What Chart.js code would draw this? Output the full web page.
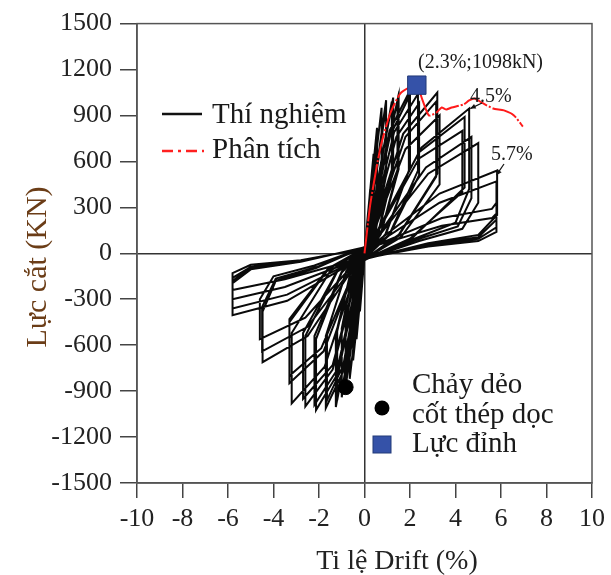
<!DOCTYPE html>
<html>
<head>
<meta charset="utf-8">
<script src="https://cdn.jsdelivr.net/npm/chart.js@4.4.1/dist/chart.umd.min.js"></script>
<style>
  html, body { margin: 0; padding: 0; background: #fff; }
  #wrap { width: 611px; height: 575px; }
</style>
</head>
<body>
<div id="wrap"><canvas id="hyst" width="611" height="575"></canvas></div>
<script>
// axis ranges / ticks
const driftTicks = [-10, -8, -6, -4, -2, 0, 2, 4, 6, 8, 10];
const forceTicks = [-1500, -1200, -900, -600, -300, 0, 300, 600, 900, 1200, 1500];

// experimental hysteresis path (drift %, shear kN), one cycle per row
const testDrift = [
    0.03, 0.25, 0.25, 0.12, 0, -0.2, -0.2, -0.1, 0,
    0.4, 0.4, 0.2, -0.02, -0.35, -0.35, -0.17, 0.02,
    0.55, 0.55, 0.27, -0.03, -0.5, -0.5, -0.24, 0.03,
    0.75, 0.75, 0.36, -0.04, -0.65, -0.65, -0.32, 0.04,
    0.95, 0.95, 0.45, -0.05, -0.83, -0.83, -0.4, 0.05,
    0.95, 0.95, 0.45, -0.05, -0.83, -0.83, -0.4, 0.05,
    1.26, 1.26, 0.6, -0.07, -1.0, -1.0, -0.5, 0.07,
    1.2, 1.2, 0.58, -0.07, -1.0, -1.0, -0.5, 0.07,
    1.5, 1.5, 0.72, -0.1, -1.26, -1.26, -0.6, 0.1,
    1.45, 1.45, 0.7, -0.1, -1.2, -1.2, -0.6, 0.1,
    1.1, 2.0, 2.0, 0.95, -0.12, -0.9, -1.7, -1.7, -0.8, 0.12,
    1.1, 1.95, 1.95, 0.92, -0.12, -0.9, -1.65, -1.65, -0.8, 0.12,
    1.3, 2.35, 2.35, 1.1, -0.15, -1.15, -2.13, -2.13, -1.0, 0.15,
    1.4, 2.4, 2.4, 1.1, -0.15, -1.2, -2.2, -2.2, -1.0, 0.15,
    1.7, 3.2, 3.2, 1.5, -0.2, -1.4, -2.6, -2.6, -1.2, 0.2,
    1.8, 3.15, 3.15, 1.5, -0.2, -1.4, -2.7, -2.7, -1.2, 0.2,
    1.8, 3.3, 3.3, 1.6, -0.25, -1.75, -3.2, -3.2, -1.5, 0.25,
    2.4, 4.4, 4.4, 2.1, -0.3, -1.8, -3.3, -3.3, -1.6, 0.3,
    2.4, 4.3, 4.3, 2.0, -0.3, -1.9, -3.3, -3.3, -1.6, 0.3,
    2.5, 4.6, 4.6, 4.0, 2.2, -0.35, -2.5, -4.48, -4.48, -3.9, -2.1, 0.35,
    2.7, 4.7, 4.7, 4.1, 2.2, -0.35, -2.5, -4.5, -4.5, -3.9, -2.1, 0.35,
    2.8, 5.0, 5.0, 4.3, 2.4, -0.4, -2.6, -4.6, -4.6, -4.0, -2.2, 0.4,
    3.3, 5.83, 5.83, 5.0, 2.8, -0.45, -3.4, -5.8, -5.8, -5.0, -2.8, 0.45,
    3.3, 5.8, 5.8, 5.0, 2.8, -0.45, -3.4, -5.8, -5.8, -5.0, -2.8, 0.45,
    3.4, 5.6, 5.8, 5.8, 5.0, 2.8, -0.5, -3.5, -5.8, -5.8, -5.0, -2.8, 0.5,
    3.4, 5.6, 5.8, 5.8, 5.0, 2.8, -0.5, -3.5, -5.8, -5.8, -5.0, -2.8, 0.5
];
const testForce = [
    15, 420, 230, 50, -15, -380, -200, -45, 15,
    650, 350, 80, -20, -560, -300, -65, 20,
    820, 440, 100, -25, -700, -380, -85, 25,
    950, 500, 115, -30, -820, -440, -100, 30,
    1000, 530, 120, -35, -874, -470, -105, 35,
    960, 510, 115, -35, -840, -450, -100, 35,
    1017, 540, 125, -40, -940, -500, -115, 40,
    990, 530, 120, -40, -910, -490, -110, 40,
    1030, 550, 125, -45, -1004, -530, -120, 45,
    1000, 540, 120, -45, -960, -510, -115, 45,
    800, 1063, 560, 130, -50, -760, -1010, -540, -120, 50,
    760, 1020, 540, 125, -50, -720, -960, -520, -115, 50,
    790, 1040, 540, 125, -55, -780, -1024, -560, -125, 55,
    760, 980, 510, 120, -55, -760, -990, -540, -120, 55,
    780, 1050, 520, 120, -60, -760, -1000, -540, -120, 60,
    760, 990, 500, 115, -60, -730, -950, -520, -115, 60,
    680, 900, 450, 105, -60, -740, -980, -520, -115, 60,
    660, 890, 430, 100, -65, -640, -848, -450, -105, 65,
    620, 800, 400, 95, -60, -620, -800, -430, -100, 60,
    690, 945, 420, 200, 95, -65, -540, -711, -380, -180, -95, 65,
    560, 760, 360, 175, 85, -60, -480, -640, -350, -165, -90, 60,
    520, 720, 330, 160, 80, -60, -420, -560, -300, -150, -80, 60,
    390, 541, 250, 120, 65, -55, -310, -404, -196, -105, -55, 55,
    330, 470, 220, 105, 60, -50, -270, -360, -180, -95, -50, 50,
    230, 290, 330, 170, 95, 50, -50, -220, -300, -160, -90, -50, 50,
    180, 230, 260, 140, 80, 45, -45, -170, -240, -130, -75, -45, 45
];

// analytical pushover curve
const anaDrift = [0, 0.26, 0.7, 1.13, 1.57, 2.0, 2.3, 2.55, 2.83, 3.17, 3.39, 3.6, 3.83, 4.35, 4.6, 4.83, 5.2, 5.65, 6.13, 6.57, 6.96];
const anaForce = [0, 326, 690, 913, 1043, 1085, 1098, 1000, 900, 920, 952, 939, 952, 972, 998, 1011, 980, 946, 933, 900, 828];

// marked points
const yieldPoint = { drift: -0.83, force: -874 };
const peakPoint = { drift: 2.3, force: 1098 };

const SERIF = '"Liberation Serif", "DejaVu Serif", serif';

const pts = (xs, ys) => xs.map((x, i) => ({ x: x, y: ys[i] }));

const decorPlugin = {
    id: 'decor',
    afterDraw(chart) {
        const ctx = chart.ctx;
        const a = chart.chartArea;
        const xs = chart.scales.x, ys = chart.scales.y;
        ctx.save();
        // frame
        ctx.strokeStyle = '#555';
        ctx.lineWidth = 1.5;
        ctx.strokeRect(a.left, a.top, a.right - a.left, a.bottom - a.top);

        // legend (upper left)
        ctx.strokeStyle = '#111';
        ctx.lineWidth = 2.5;
        ctx.beginPath(); ctx.moveTo(162, 114); ctx.lineTo(202, 114); ctx.stroke();
        ctx.strokeStyle = '#ff2020';
        ctx.setLineDash([11, 5, 3, 5]);
        ctx.beginPath(); ctx.moveTo(162, 151); ctx.lineTo(204, 151); ctx.stroke();
        ctx.setLineDash([]);
        ctx.fillStyle = '#1a1a1a';
        ctx.font = '29px ' + SERIF;
        ctx.textBaseline = 'alphabetic';
        ctx.textAlign = 'left';
        ctx.fillText('Thí nghiệm', 212, 123);
        ctx.fillText('Phân tích', 212, 158);

        // legend (lower right)
        ctx.fillStyle = '#000';
        ctx.beginPath(); ctx.arc(382, 408, 7.5, 0, Math.PI * 2); ctx.fill();
        ctx.fillStyle = '#3552a8';
        ctx.fillRect(373, 436, 18, 17);
        ctx.strokeStyle = '#233a78';
        ctx.lineWidth = 1;
        ctx.strokeRect(373, 436, 18, 17);
        ctx.fillStyle = '#1a1a1a';
        ctx.fillText('Chảy dẻo', 412, 393);
        ctx.fillText('cốt thép dọc', 412, 423);
        ctx.fillText('Lực đỉnh', 412, 452);

        // annotations
        ctx.font = '20px ' + SERIF;
        ctx.fillText('(2.3%;1098kN)', 418, 68);
        ctx.fillText('4.5%', 470, 102);
        ctx.fillText('5.7%', 491, 160);
        const arrow = (x0, y0, dx, dy) => {
            const x1 = xs.getPixelForValue(dx), y1 = ys.getPixelForValue(dy);
            ctx.strokeStyle = '#111';
            ctx.lineWidth = 1.2;
            ctx.beginPath(); ctx.moveTo(x0, y0); ctx.lineTo(x1, y1); ctx.stroke();
            const ang = Math.atan2(y1 - y0, x1 - x0);
            ctx.fillStyle = '#111';
            ctx.beginPath();
            ctx.moveTo(x1, y1);
            ctx.lineTo(x1 - 6 * Math.cos(ang - 0.45), y1 - 6 * Math.sin(ang - 0.45));
            ctx.lineTo(x1 - 6 * Math.cos(ang + 0.45), y1 - 6 * Math.sin(ang + 0.45));
            ctx.closePath(); ctx.fill();
        };
        arrow(482, 103, 4.65, 945);
        arrow(504, 164, 5.8, 510);

        // axis titles
        ctx.fillStyle = '#222';
        ctx.font = '28px ' + SERIF;
        ctx.textAlign = 'center';
        ctx.textBaseline = 'middle';
        ctx.fillText('Ti lệ Drift (%)', 397, 562);
        ctx.save();
        ctx.translate(38, 267);
        ctx.rotate(-Math.PI / 2);
        ctx.fillStyle = '#6b3d17';
        ctx.font = '30px ' + SERIF;
        ctx.fillText('Lực cắt (KN)', 0, 0);
        ctx.restore();
        ctx.restore();
    }
};

const zeroLine = (c) => (c.tick && c.tick.value === 0 ? '#333' : 'rgba(0,0,0,0)');

new Chart(document.getElementById('hyst'), {
    type: 'scatter',
    data: {
        datasets: [
            {
                label: 'Lực đỉnh',
                data: [{ x: peakPoint.drift, y: peakPoint.force }],
                pointStyle: 'rect',
                pointRadius: 13,
                backgroundColor: '#3552a8',
                borderColor: '#233a78',
                borderWidth: 1
            },
            {
                label: 'Chảy dẻo cốt thép dọc',
                data: [{ x: yieldPoint.drift, y: yieldPoint.force }],
                pointStyle: 'circle',
                pointRadius: 7.5,
                backgroundColor: '#000',
                borderColor: '#000'
            },
            {
                label: 'Phân tích',
                data: pts(anaDrift, anaForce),
                showLine: true,
                borderColor: '#ff1a1a',
                borderWidth: 2,
                borderDash: [26, 2, 2, 2],
                pointRadius: 0,
                tension: 0.2
            },
            {
                label: 'Thí nghiệm',
                data: pts(testDrift, testForce),
                showLine: true,
                borderColor: '#0a0a0a',
                borderWidth: 2,
                pointRadius: 0,
                tension: 0
            }
        ]
    },
    options: {
        responsive: false,
        animation: false,
        layout: { padding: { top: 23, right: 14, left: 0, bottom: 0 } },
        plugins: { legend: { display: false }, tooltip: { enabled: false } },
        scales: {
            x: {
                type: 'linear',
                min: driftTicks[0],
                max: driftTicks[driftTicks.length - 1],
                afterBuildTicks: (s) => { s.ticks = driftTicks.map(v => ({ value: v })); },
                afterFit: (s) => { s.height = 92; },
                ticks: { color: '#222', font: { family: SERIF, size: 26 }, padding: 6, maxRotation: 0, callback: (v) => String(v) },
                grid: { color: zeroLine, lineWidth: 1.5, tickLength: 15, tickColor: '#444', tickWidth: 1.5 },
                border: { display: true, color: '#555', width: 1.5 }
            },
            y: {
                type: 'linear',
                min: forceTicks[0],
                max: forceTicks[forceTicks.length - 1],
                afterBuildTicks: (s) => { s.ticks = forceTicks.map(v => ({ value: v })); },
                afterFit: (s) => { s.width = 137; },
                ticks: { color: '#222', font: { family: SERIF, size: 26 }, padding: 8, callback: (v) => String(v) },
                grid: { color: zeroLine, lineWidth: 1.5, tickLength: 17, tickColor: '#444', tickWidth: 1.5 },
                border: { display: true, color: '#555', width: 1.5 }
            }
        }
    },
    plugins: [decorPlugin]
});
</script>
</body>
</html>
